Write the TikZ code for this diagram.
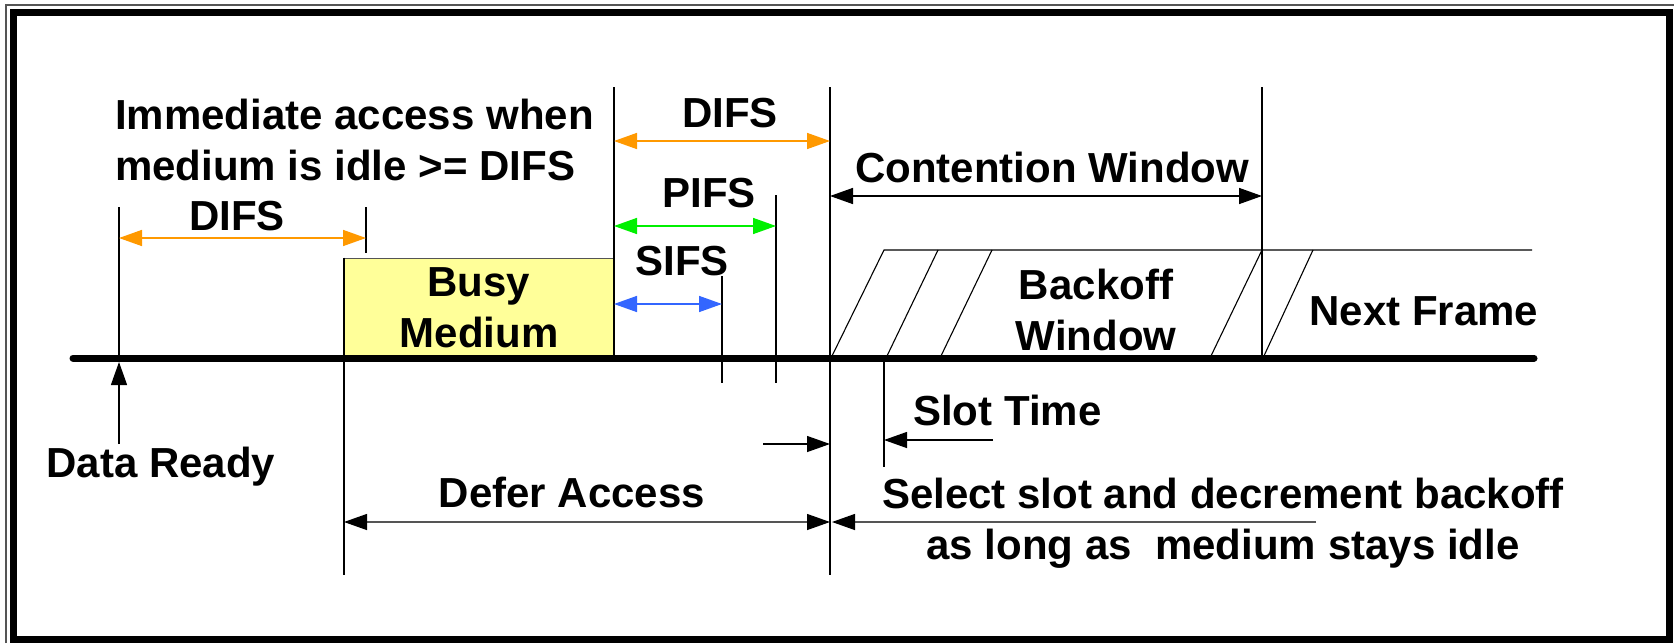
\documentclass[tikz,border=0pt]{standalone}
\usepackage{fontspec}
\setmainfont{Liberation Sans}
\usetikzlibrary{arrows.meta}
\definecolor{difsor}{HTML}{FF9900}
\definecolor{pifsgr}{HTML}{00F000}
\definecolor{sifsbl}{HTML}{3366FF}
\definecolor{busyfill}{HTML}{FFFF99}
\definecolor{framegray}{HTML}{555555}
\tikzset{
  lbl/.style={font=\fontsize{42}{51}\selectfont\bfseries, inner sep=0pt, anchor=base},
  tick/.style={line width=1.3pt, black},
  slant/.style={line width=1.1pt, black},
  tipT/.tip={Triangle[length=23pt, width=16pt]},
  tipK/.tip={Triangle[length=23pt, width=16pt, black]},
  dim/.style={line width=1.5pt, tipT-tipT},
  onearrow/.style={line width=1.3pt, -tipT},
}
\begin{document}
\begin{tikzpicture}[x=1pt, y=-1pt]
\useasboundingbox (0,0) rectangle (1674,643);
\fill[white] (0,0) rectangle (1674,643);

% double frame
\draw[line width=1.5pt, framegray] (6,643) -- (6,5) -- (1674,5);
\draw[line width=7pt] (13.5,12.5) rectangle (1669.5,639.5);

% time marks
\coordinate (tReady)  at (119,358);
\coordinate (tBusyS)  at (344,358);
\coordinate (tBusyE)  at (614,358);
\coordinate (tSlot)   at (884,358);
\coordinate (tCw)     at (1262,358);

% busy medium
\node[draw=framegray, line width=1.3pt, fill=busyfill, minimum width=270pt,
      minimum height=99pt, inner sep=0pt, anchor=south west] (busy) at (tBusyS) {};
\node[lbl, align=center] (busytxt) at (479,347) {Busy\\Medium};

% vertical guides
\draw[tick] (tReady) -- (119,207) coordinate (rTop);
\draw[tick] (366,207) coordinate (aTop) -- (366,253) coordinate (aBot);
\draw[tick] (busy.north west) -- (344,575) coordinate (bBot);
\draw[tick] (tBusyE) -- (614,87) coordinate (eTop);
\draw[tick] (722,276) coordinate (sTop) -- (722,383) coordinate (sBot);
\draw[tick] (776,195) coordinate (pTop) -- (776,383) coordinate (pBot);
\draw[tick] (830,87) coordinate (dTop) -- (830,575) coordinate (dBot);
\draw[tick] (1262,87) coordinate (cTop) -- (tCw);
\draw[tick] (tSlot) -- (884,467) coordinate (slBot);

% backoff slots and next frame outline
\draw[slant] (831,358) -- (884,250) coordinate (boTopL) -- (1532,250) coordinate (boTopR);
\draw[slant] (886,358) -- (938,250);
\draw[slant] (940,358) -- (992,250);
\draw[slant] (1210,358) -- (1262,250);
\draw[slant] (1263,358) -- (1313,250);

% medium timeline
\draw[line width=7pt, line cap=round] (73,358) coordinate (lineL) -- (1534,358) coordinate (lineR);

% interframe spaces
\coordinate (difs1L) at (119,238);  \coordinate (difs1R) at (366,238);
\coordinate (difs2L) at (614,141);  \coordinate (difs2R) at (830,141);
\coordinate (pifsL)  at (614,226);  \coordinate (pifsR)  at (776,226);
\coordinate (sifsL)  at (614,304);  \coordinate (sifsR)  at (722,304);
\coordinate (cwL)    at (830,196);  \coordinate (cwR)    at (1262,196);
\draw[dim, difsor] (difs1L) -- (difs1R);
\draw[dim, difsor] (difs2L) -- (difs2R);
\draw[dim, pifsgr] (pifsL) -- (pifsR);
\draw[dim, sifsbl] (sifsL) -- (sifsR);
\draw[dim, black] (cwL) -- (cwR);

% lower arrows
\coordinate (readyFoot) at (119,444);
\coordinate (readyTip)  at (119,362);
\draw[onearrow] (readyFoot) -- (readyTip);
\coordinate (ssL) at (763,444); \coordinate (ssR) at (830,444);
\draw[onearrow] (ssL) -- (ssR);
\coordinate (slR) at (993,440); \coordinate (slL) at (884,440);
\draw[onearrow] (slR) -- (slL);
\coordinate (defL) at (344,522); \coordinate (defR) at (830,522);
\draw[line width=1.3pt, draw=framegray, tipK-tipK] (defL) -- (defR);
\coordinate (selR) at (1316,522); \coordinate (selL) at (832,522);
\draw[line width=1.3pt, draw=framegray, -tipK] (selR) -- (selL);

% labels (multi-line labels sit on the baseline of their last line)
\node[lbl, anchor=base west, align=left] (imm) at (115,180) {Immediate access when\\medium is idle >= DIFS};
\node[lbl] (difs1) at (237,230) {DIFS};
\node[lbl] (difs2) at (730,127) {DIFS};
\node[lbl] (pifs) at (709,207) {PIFS};
\node[lbl] (sifs) at (682,275) {SIFS};
\node[lbl] (cw) at (1052,182) {Contention Window};
\node[lbl, align=center] (bo) at (1096,350) {Backoff\\Window};
\node[lbl] (next) at (1424,325) {Next Frame};
\node[lbl, anchor=base west] (slot) at (913,425) {Slot Time};
\node[lbl] (ready) at (161,477) {Data Ready};
\node[lbl] (defer) at (572,507) {Defer Access};
\node[lbl, align=center] (sel) at (1223,559) {Select slot and decrement backoff\\as long as\ \ medium stays idle};
\end{tikzpicture}
\end{document}
